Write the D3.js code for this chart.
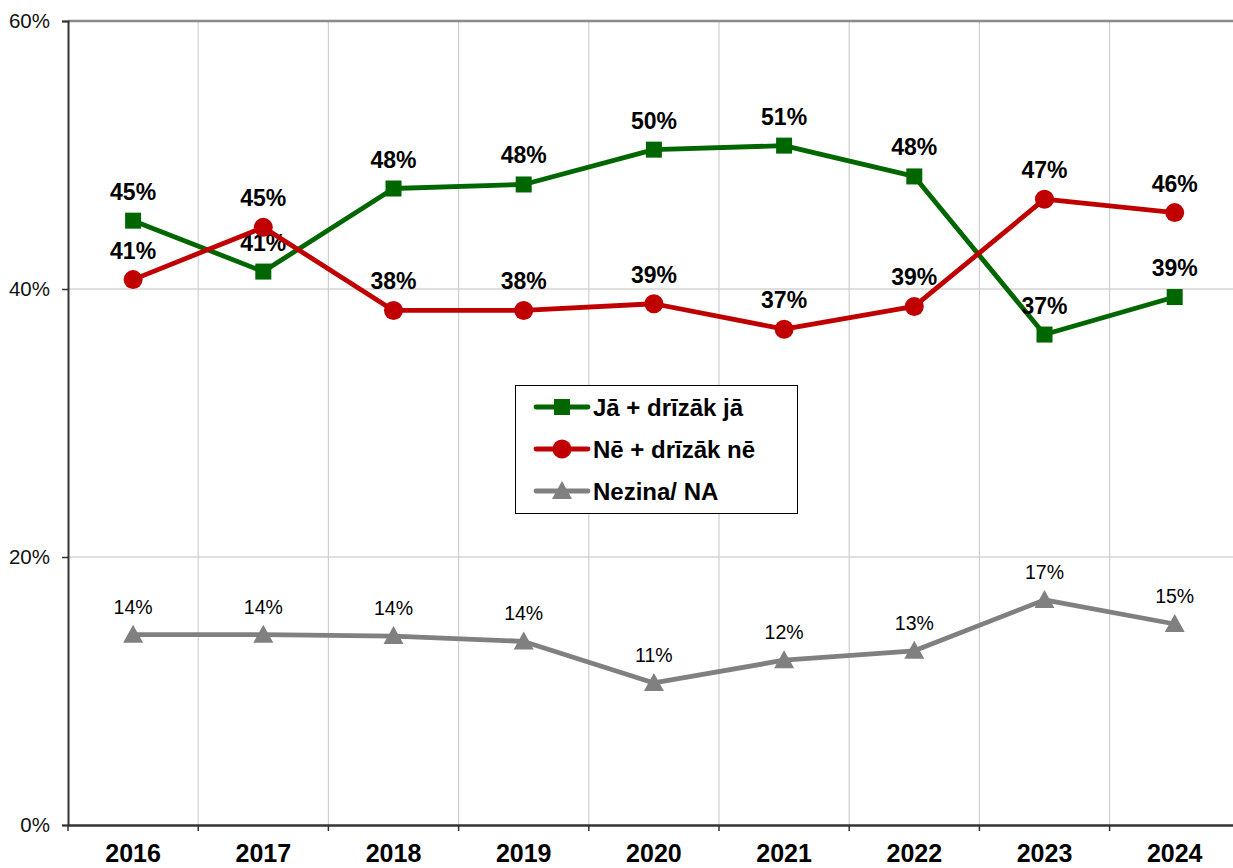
<!DOCTYPE html>
<html>
<head>
<meta charset="utf-8">
<script src="https://cdn.jsdelivr.net/npm/d3@7"></script>
<style>
  html, body { margin: 0; padding: 0; background: #fff; }
  svg { display: block; font-family: "Liberation Sans", Arial, sans-serif; }
</style>
</head>
<body>
<svg id="chart" width="1233" height="868"></svg>
<script>
// Survey results by year (share of respondents, %)
const years = ["2016", "2017", "2018", "2019", "2020", "2021", "2022", "2023", "2024"];
const yesValues = [45.1, 41.3, 47.5, 47.8, 50.4, 50.7, 48.4, 36.6, 39.4];
const noValues = [40.7, 44.6, 38.4, 38.4, 38.9, 37.0, 38.7, 46.7, 45.7];
const dkValues = [14.2, 14.2, 14.1, 13.7, 10.6, 12.3, 13.0, 16.8, 15.0];
const yTicks = [0, 20, 40, 60];
const seriesNames = ["Jā + drīzāk jā", "Nē + drīzāk nē", "Nezina/ NA"];

const series = [
  { name: seriesNames[0], values: yesValues, color: "#006600", marker: "square", bold: true },
  { name: seriesNames[1], values: noValues, color: "#c00000", marker: "circle", bold: true },
  { name: seriesNames[2], values: dkValues, color: "#808080", marker: "triangle", bold: false }
];

const svg = d3.select("#chart");
const plotLeft = 68, plotTop = 21, plotBottom = 825;
const bandW = 130.2;
const plotRight = plotLeft + bandW * years.length;

const x = d3.scaleBand().domain(years).range([plotLeft, plotRight]);
const y = d3.scaleLinear().domain([0, 60]).range([plotBottom, plotTop]);

// Gridlines
const grid = svg.append("g");
grid.selectAll("line.h").data(yTicks.filter(t => t > 0 && t < 60)).join("line")
  .attr("class", "h")
  .attr("x1", plotLeft).attr("x2", plotRight)
  .attr("y1", d => y(d)).attr("y2", d => y(d))
  .attr("stroke", "#d4d4d4").attr("stroke-width", 1.5);
grid.selectAll("line.v").data(years.slice(1)).join("line")
  .attr("class", "v")
  .attr("x1", d => x(d)).attr("x2", d => x(d))
  .attr("y1", plotTop).attr("y2", plotBottom)
  .attr("stroke", "#cfcfcf").attr("stroke-width", 1.2);
// top border of plot area
grid.append("line")
  .attr("x1", plotLeft).attr("x2", plotRight).attr("y1", plotTop).attr("y2", plotTop)
  .attr("stroke", "#8a8a8a").attr("stroke-width", 2.5);

// Y axis
const yAxis = d3.axisLeft(y).tickValues(yTicks).tickSize(6).tickPadding(12)
  .tickFormat(d => d + "%");
const gy = svg.append("g").attr("transform", `translate(${plotLeft},0)`).call(yAxis);
gy.select(".domain").attr("stroke", "#333").attr("stroke-width", 2);
gy.selectAll(".tick line").attr("stroke", "#333").attr("stroke-width", 1.5);
gy.selectAll(".tick text").attr("font-size", 20.5).attr("fill", "#111")
  .attr("font-family", "Liberation Sans, Arial, sans-serif");

// X axis
const xAxis = d3.axisBottom(x).tickSize(0).tickPadding(19);
const gx = svg.append("g").attr("transform", `translate(0,${plotBottom})`).call(xAxis);
gx.select(".domain").attr("stroke", "#333").attr("stroke-width", 2.5);
gx.selectAll(".tick text").attr("font-size", 25).attr("font-weight", "bold").attr("fill", "#000")
  .attr("font-family", "Liberation Sans, Arial, sans-serif");
// tick marks at category boundaries
svg.append("g").selectAll("line").data(years).join("line")
  .attr("x1", d => x(d)).attr("x2", d => x(d))
  .attr("y1", plotBottom).attr("y2", plotBottom + 6)
  .attr("stroke", "#333").attr("stroke-width", 1.5);

const cx = d => x(d) + x.bandwidth() / 2;

function drawMarker(g, type, color) {
  if (type === "square") {
    g.append("rect").attr("x", -8).attr("y", -8).attr("width", 16).attr("height", 16).attr("fill", color);
  } else if (type === "circle") {
    g.append("circle").attr("r", 9.5).attr("fill", color);
  } else {
    g.append("path").attr("d", "M0,-10 L10,8 L-10,8 Z").attr("fill", color);
  }
}

const line = d3.line().x((d, i) => cx(years[i])).y(d => y(d));

series.forEach(s => {
  const g = svg.append("g");
  g.append("path").datum(s.values)
    .attr("d", line).attr("fill", "none")
    .attr("stroke", s.color).attr("stroke-width", 4.8).attr("stroke-linejoin", "round");
  s.values.forEach((v, i) => {
    const mg = g.append("g").attr("transform", `translate(${cx(years[i])},${y(v)})`);
    drawMarker(mg, s.marker, s.color);
  });
  g.selectAll("text").data(s.values).join("text")
    .attr("x", (d, i) => cx(years[i]))
    .attr("y", d => y(d) - 21)
    .attr("text-anchor", "middle")
    .attr("font-size", s.bold ? 23 : 19.5)
    .attr("font-weight", s.bold ? "bold" : "normal")
    .attr("fill", "#000")
    .text(d => Math.round(d) + "%");
});

// Legend
const lg = svg.append("g").attr("transform", "translate(515,385)");
lg.append("rect").attr("x", 0.5).attr("y", 0.5).attr("width", 282).attr("height", 128)
  .attr("fill", "#fff").attr("stroke", "#000").attr("stroke-width", 1);
series.forEach((s, i) => {
  const ry = 22 + i * 42;
  lg.append("line").attr("x1", 21).attr("x2", 73).attr("y1", ry).attr("y2", ry)
    .attr("stroke", s.color).attr("stroke-width", 4.8).attr("stroke-linecap", "round");
  const mg = lg.append("g").attr("transform", `translate(47,${ry})`);
  drawMarker(mg, s.marker, s.color);
  lg.append("text").attr("x", 78).attr("y", ry + 9)
    .attr("font-size", 24).attr("font-weight", "bold").attr("fill", "#000")
    .text(s.name);
});
</script>
</body>
</html>
